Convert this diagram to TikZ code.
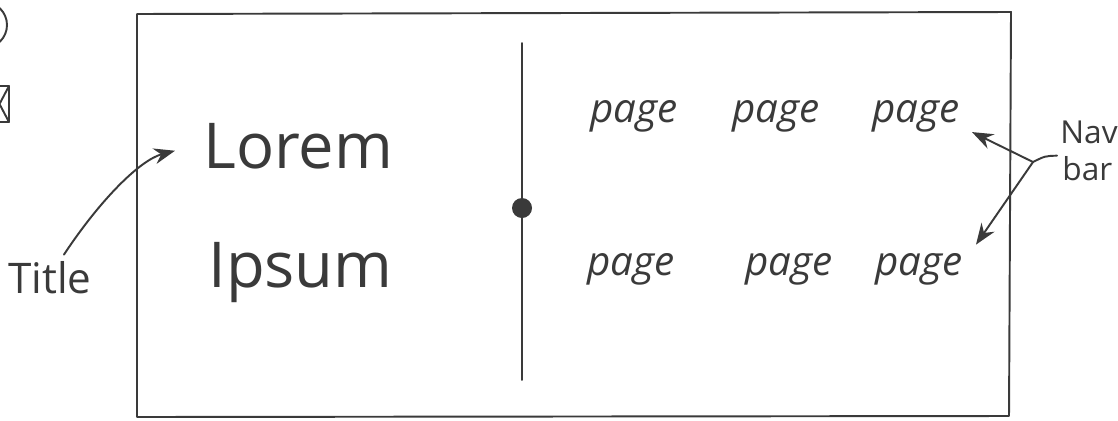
\documentclass[tikz,border=0pt]{standalone}
\usepackage{fontspec}
\setmainfont{Open Sans}
\usetikzlibrary{arrows.meta,calc}
\definecolor{ink}{HTML}{3a3a3a}
\begin{document}
\begin{tikzpicture}[x=0.02cm,y=-0.02cm,
  pen/.style={draw=ink, line width=1.1pt, line cap=round, line join=round},
  arr/.style={pen, -{Stealth[length=12pt,width=9pt]}},
  hand/.style={text=ink, inner sep=0pt, anchor=base west},
  big/.style={hand, font=\fontsize{36}{36}\selectfont},
  pagew/.style={hand, font=\fontsize{23}{23}\selectfont\itshape},
  note/.style={hand, font=\fontsize{24}{24}\selectfont},
  side/.style={hand, font=\fontsize{18}{18}\selectfont}]
\useasboundingbox (0,0) rectangle (1118,420);
\clip (0,0) rectangle (1118,420);
\fill[white] (0,0) rectangle (1118,420);
% partial sketches cut off at the left edge
\draw[pen] (-16,25) circle (23);
\draw[pen] (-10,86) rectangle (9,122);
\draw[pen] (-10,86) -- (9,122) (-10,122) -- (9,86);
% frame
\draw[pen] (137,14) -- (1011,12) -- (1009,416) -- (137,417) -- cycle;
% divider with dot
\draw[pen] (522,43) -- (522,380);
\fill[ink] (522,208) circle (10);
% title text
\node[big] (lorem) at (203,168) {Lorem};
\node[big] (ipsum) at (208,287) {Ipsum};
% nav pages
\node[pagew] (p1) at (590,122) {page};
\node[pagew] (p2) at (732,122) {page};
\node[pagew] (p3) at (872,122) {page};
\node[pagew] (q1) at (587,275) {page};
\node[pagew] (q2) at (745,275) {page};
\node[pagew] (q3) at (875,275) {page};
% labels
\node[note] (title) at (8,293) {Title};
\node[side] (nav) at (1060,143) {Nav};
\node[side] (bar) at (1062,180) {bar};
% connectors
\draw[arr] ($(title.north)+(14,-6)$) .. controls (100,200) and (140,160) .. ($(lorem.west)+(-28,5)$);
\coordinate (navj) at (1033,162);
\draw[pen] ($(nav.south west)+(-3,12)$) .. controls (1045,156) .. (navj);
\draw[arr] (navj) -- ($(p3.south east)+(12,0)$);
\draw[arr] (navj) -- ($(q3.north east)+(13,-8)$);
\end{tikzpicture}
\end{document}
